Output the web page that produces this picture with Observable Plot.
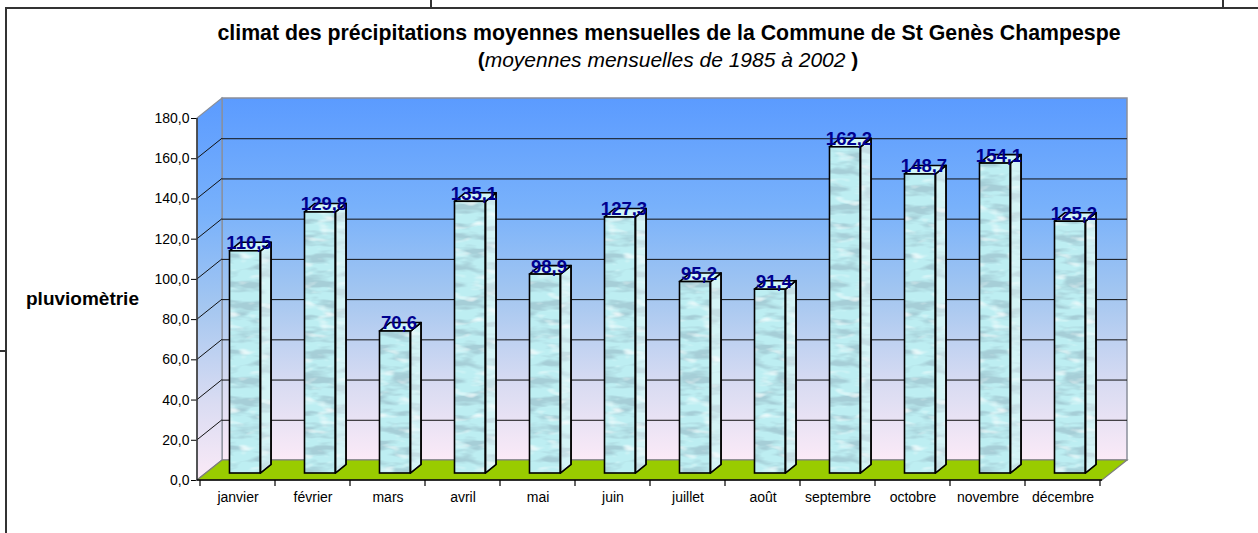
<!DOCTYPE html>
<html>
<head>
<meta charset="utf-8">
<script src="https://cdn.jsdelivr.net/npm/d3@7"></script>
<script src="https://cdn.jsdelivr.net/npm/@observablehq/plot@0.6"></script>
<style>
  html, body { margin: 0; padding: 0; background: #fff; }
  #page { position: relative; width: 1258px; height: 533px; overflow: hidden; font-family: "Liberation Sans", Arial, sans-serif; }
  .ln { position: absolute; background: #333; }
  #title { position: absolute; left: 169px; width: 1000px; top: 21px; text-align: center; font-size: 21.3px; font-weight: bold; line-height: 24px; color: #000; white-space: nowrap; }
  #subtitle { position: absolute; left: 168px; width: 1000px; top: 48px; text-align: center; font-size: 21px; line-height: 24px; color: #000; white-space: nowrap; }
  #ylabel { position: absolute; left: 26px; top: 289px; font-size: 19px; font-weight: bold; line-height: 19px; color: #000; white-space: nowrap; }
  #chart { position: absolute; left: 0; top: 0; }
</style>
</head>
<body>
<div id="page">
  <div id="chart"></div>
  <div class="ln" style="left:6px; top:7px; width:1252px; height:2px;"></div>
  <div class="ln" style="left:5px; top:7px; width:2px; height:526px;"></div>
  <div class="ln" style="left:430px; top:0; width:2px; height:8px;"></div>
  <div class="ln" style="left:1222px; top:0; width:2px; height:8px;"></div>
  <div class="ln" style="left:0; top:350px; width:6px; height:2px;"></div>
  <div id="title">climat des précipitations moyennes mensuelles de la Commune de St Genès Champespe</div>
  <div id="subtitle"><b>(</b><i>moyennes mensuelles de 1985 à 2002</i> <b>)</b></div>
  <div id="ylabel">pluviomètrie</div>
</div>
<script>
// ---- data ----
const months = ["janvier","février","mars","avril","mai","juin","juillet","août","septembre","octobre","novembre","décembre"];
const precip = [110.5,129.8,70.6,135.1,98.9,127.3,95.2,91.4,162.2,148.7,154.1,125.2];
const yTicks = [0,20,40,60,80,100,120,140,160,180];

const data = months.map((m, i) => ({month: m, value: precip[i]}));
const fmt = v => v.toFixed(1).replace(".", ",");

// ---- layout ----
const W = 1258, H = 533, ML = 197, MR = 156, MT = 118, MB = 53;
const DX = 25, DY = -20;          // depth of the 3D box
const BDX = 8.5, BDY = -7;        // plane of the bars
const FACE_W = 31, INSET_L = 21;  // bar front face
const SX = 10.5, SY = -8.5;       // bar depth
const BW = (W - ML - MR) / months.length;

function walls(index, scales, values, dims) {
  const y = scales.y;
  const x0 = dims.marginLeft, x1 = dims.width - dims.marginRight;
  const y0 = y(0), yTop = y(180);
  const g = d3.create("svg:g");
  const defs = g.append("defs");
  const grad = defs.append("linearGradient").attr("id", "wallGrad").attr("x1", 0).attr("y1", 0).attr("x2", 0).attr("y2", 1);
  [["0%","#5b9bff"],["30%","#78b1fb"],["55%","#a5c7f0"],["80%","#dadcf2"],["100%","#fbeaf7"]]
    .forEach(([o,c]) => grad.append("stop").attr("offset", o).attr("stop-color", c));
  // darker teal blotches
  const f1 = defs.append("filter").attr("id", "waterNoise").attr("x", 0).attr("y", 0).attr("width", "100%").attr("height", "100%");
  f1.append("feTurbulence").attr("type", "fractalNoise").attr("baseFrequency", "0.035 0.1").attr("numOctaves", 3).attr("seed", 5).attr("stitchTiles", "stitch");
  f1.append("feColorMatrix").attr("type", "matrix").attr("values", "0 0 0 0 0.38  0 0 0 0 0.62  0 0 0 0 0.68  4.2 0 0 0 -1.85");
  // white streaks
  const f2 = defs.append("filter").attr("id", "waterLight").attr("x", 0).attr("y", 0).attr("width", "100%").attr("height", "100%");
  f2.append("feTurbulence").attr("type", "fractalNoise").attr("baseFrequency", "0.05 0.14").attr("numOctaves", 2).attr("seed", 11).attr("stitchTiles", "stitch");
  f2.append("feColorMatrix").attr("type", "matrix").attr("values", "0 0 0 0 1  0 0 0 0 1  0 0 0 0 1  0 3.6 0 0 -2.05");
  const pat = defs.append("pattern").attr("id", "water").attr("patternUnits", "userSpaceOnUse").attr("width", 96).attr("height", 96);
  pat.append("rect").attr("width", 96).attr("height", 96).attr("fill", "#bdeef2");
  pat.append("rect").attr("width", 96).attr("height", 96).attr("filter", "url(#waterNoise)");
  pat.append("rect").attr("width", 96).attr("height", 96).attr("filter", "url(#waterLight)").attr("opacity", 0.7);

  // back wall
  g.append("rect").attr("x", x0 + DX).attr("y", yTop + DY).attr("width", x1 - x0).attr("height", y0 - yTop)
    .attr("fill", "url(#wallGrad)").attr("stroke", "#8a8f9a").attr("stroke-width", 1.5);
  // left wall
  g.append("path").attr("d", `M${x0},${y0}L${x0},${yTop}L${x0+DX},${yTop+DY}L${x0+DX},${y0+DY}Z`)
    .attr("fill", "url(#wallGrad)").attr("stroke", "#8a8f9a").attr("stroke-width", 1.2);
  // diagonal grid lines on left wall
  for (const t of yTicks.slice(1, -1)) {
    g.append("line").attr("x1", x0).attr("y1", y(t)).attr("x2", x0 + DX).attr("y2", y(t) + DY)
      .attr("stroke", "#111").attr("stroke-width", 1);
  }
  // floor
  g.append("path").attr("d", `M${x0},${y0}L${x1},${y0}L${x1+DX},${y0+DY}L${x0+DX},${y0+DY}Z`)
    .attr("fill", "#99cc00").attr("stroke", "#7d7d7d").attr("stroke-width", 1.2);
  return g.node();
}

function barSides(index, scales) {
  const {x, y} = scales;
  const g = d3.create("svg:g").attr("stroke", "#000").attr("stroke-width", 1.6).attr("stroke-linejoin", "round");
  for (const d of data) {
    const xl = x(d.month) + INSET_L + BDX, xr = xl + FACE_W;
    const yt = y(d.value) + BDY, yb = y(0) + BDY;
    g.append("path").attr("d", `M${xr},${yt}L${xr+SX},${yt+SY}L${xr+SX},${yb+SY}L${xr},${yb}Z`).attr("fill", "url(#water)");
    g.append("path").attr("d", `M${xr},${yt}L${xr+SX},${yt+SY}L${xr+SX},${yb+SY}L${xr},${yb}Z`).attr("fill", "#ffffff").attr("fill-opacity", 0.35);
    g.append("path").attr("d", `M${xl},${yt}L${xl+SX},${yt+SY}L${xr+SX},${yt+SY}L${xr},${yt}Z`).attr("fill", "#d2f6f8");
  }
  return g.node();
}

function axesLines(index, scales, values, dims) {
  const {x, y} = scales;
  const x0 = dims.marginLeft, x1 = dims.width - dims.marginRight;
  const g = d3.create("svg:g");
  g.append("line").attr("x1", x0).attr("x2", x0).attr("y1", y(0)).attr("y2", y(180)).attr("stroke", "#333").attr("stroke-width", 1.5);
  g.append("line").attr("x1", x0).attr("x2", x1).attr("y1", y(0)).attr("y2", y(0)).attr("stroke", "#000").attr("stroke-width", 1.5);
  const edges = months.map(m => x(m)).concat([x(months[months.length-1]) + (x.bandwidth ? x.bandwidth() : BW)]);
  for (const e of edges) {
    g.append("line").attr("x1", e).attr("x2", e).attr("y1", y(0)).attr("y2", y(0) + 6).attr("stroke", "#000").attr("stroke-width", 1.2);
  }
  return g.node();
}

const chart = Plot.plot({
  width: W, height: H,
  marginLeft: ML, marginRight: MR, marginTop: MT, marginBottom: MB,
  style: {fontFamily: "'Liberation Sans', Arial, sans-serif", fontSize: "14px", background: "transparent", color: "#000"},
  x: {type: "band", domain: months, padding: 0, tickSize: 0, tickPadding: 12, label: null},
  y: {domain: [0, 180], ticks: yTicks, tickFormat: fmt, tickSize: 6, tickPadding: 2, label: null},
  marks: [
    walls,
    Plot.ruleY(yTicks.slice(1, -1), {dx: DX, dy: DY, stroke: "#111", strokeWidth: 1}),
    barSides,
    Plot.barY(data, {x: "month", y: "value", fill: "url(#water)", stroke: "#000", strokeWidth: 1.6,
      insetLeft: INSET_L, insetRight: BW - INSET_L - FACE_W, dx: BDX, dy: BDY}),
    Plot.text(data, {x: "month", y: "value", text: d => fmt(d.value), dx: 11, dy: -15,
      fill: "#00008f", fontWeight: "bold", fontSize: 18.5}),
    axesLines
  ]
});
document.getElementById("chart").appendChild(chart);
</script>
</body>
</html>
